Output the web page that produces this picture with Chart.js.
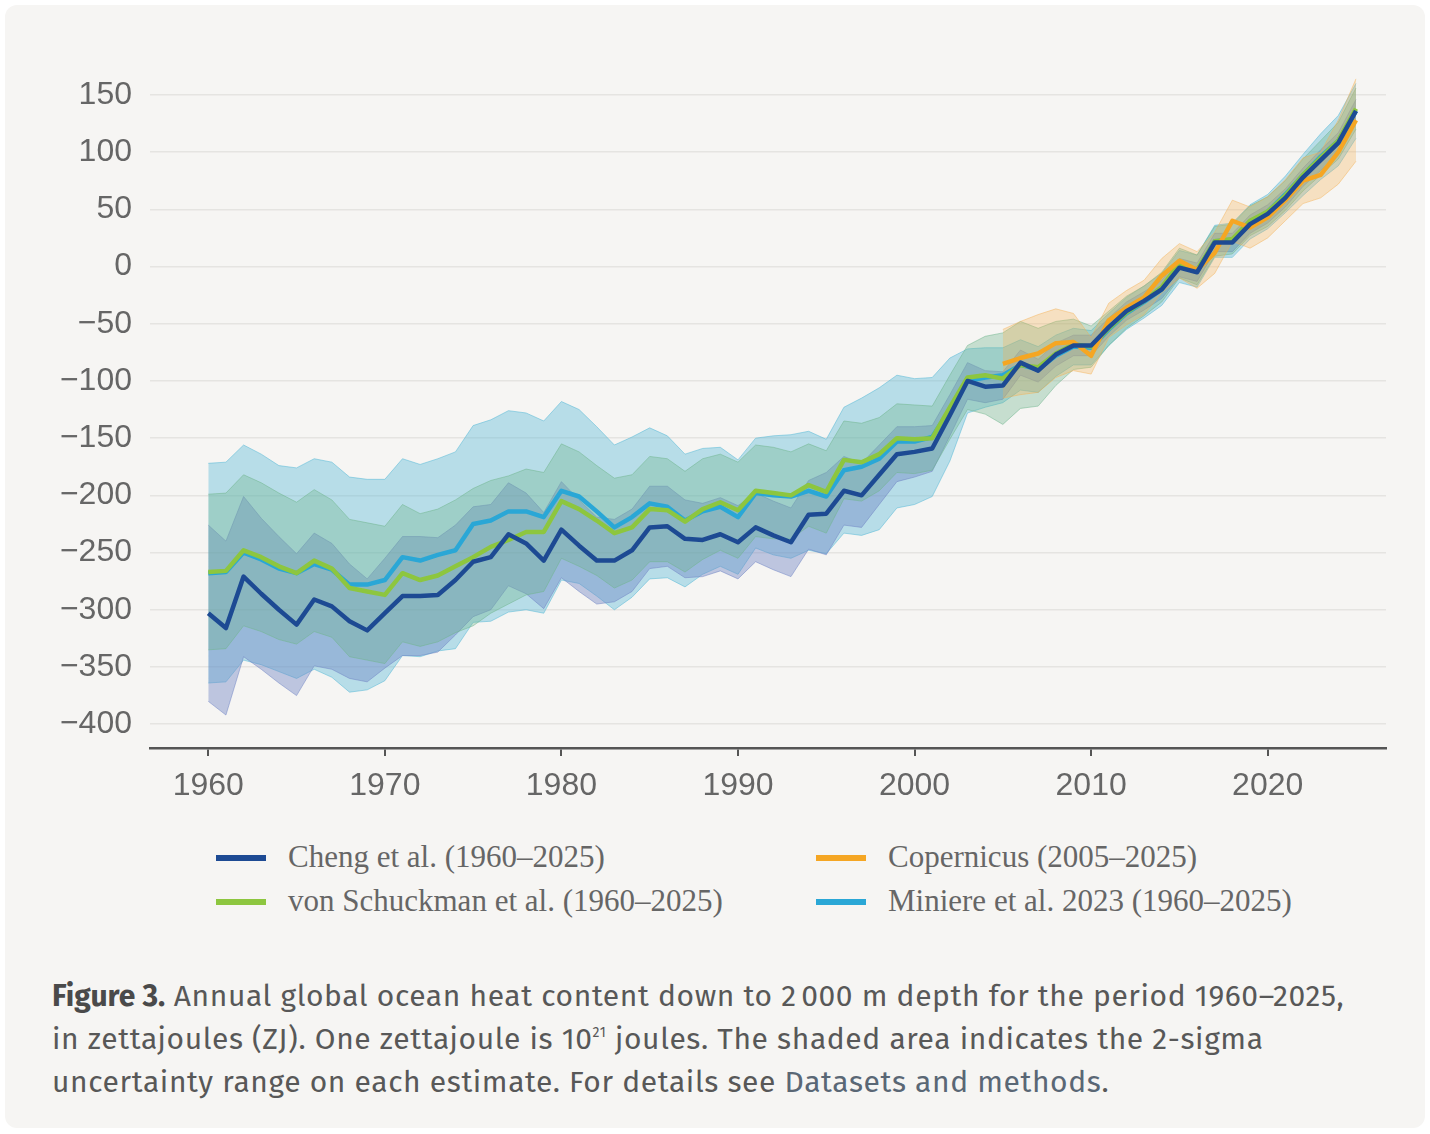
<!DOCTYPE html>
<html>
<head>
<meta charset="utf-8">
<script src="https://cdn.jsdelivr.net/npm/chart.js@4.4.1/dist/chart.umd.min.js"></script>
<style>
  html, body { margin: 0; padding: 0; background: #ffffff; }
  #card {
    position: absolute; left: 5px; top: 5px; width: 1420px; height: 1123px;
    background: #f6f5f3; border-radius: 12px;
  }
  #wrap { position: absolute; left: 0; top: 0; width: 1430px; height: 830px; }
  .legend-item {
    position: absolute; height: 40px; line-height: 40px;
    font-family: "Liberation Serif", "DejaVu Serif", serif; font-size: 31px; color: #666;
    white-space: nowrap;
  }
  .legend-item .swatch {
    position: absolute; left: 0; top: 18px; width: 50px; height: 6px;
  }
  .legend-item .label { position: absolute; left: 72px; top: 0; }
  #caption {
    position: absolute; left: 52px; top: 975px; width: 1370px;
    font-family: "Fira Sans", Lato, "Noto Sans", sans-serif; font-size: 30px;
    letter-spacing: 0.6px; white-space: nowrap;
    line-height: 43px; color: #585858;
  }
  #caption b { font-weight: 700; color: #4a4a4a; letter-spacing: 0; }
  #caption .link { color: #5a6775; }
</style>
</head>
<body>
<div id="card"></div>
<div id="wrap"><canvas id="chart" width="1430" height="830"></canvas></div>

<div class="legend-item" style="left:216px; top:837px;"><span class="swatch" style="background:#1d4a93"></span><span class="label">Cheng et al. (1960–2025)</span></div>
<div class="legend-item" style="left:216px; top:881px;"><span class="swatch" style="background:#8dc63f"></span><span class="label">von Schuckman et al. (1960–2025)</span></div>
<div class="legend-item" style="left:816px; top:837px;"><span class="swatch" style="background:#f5a623"></span><span class="label">Copernicus (2005–2025)</span></div>
<div class="legend-item" style="left:816px; top:881px;"><span class="swatch" style="background:#2aa7d6"></span><span class="label">Miniere et al. 2023 (1960–2025)</span></div>

<div id="caption"><b>Figure 3.</b> Annual global ocean heat content down to 2&#8239;000 m depth for the period 1960–2025,<br>in zettajoules (ZJ). One zettajoule is 10<sup style="font-size:14px;vertical-align:top;line-height:30px">21</sup> joules. The shaded area indicates the 2-sigma<br>uncertainty range on each estimate. For details see <span class="link">Datasets and methods</span>.</div>

<script>
// years 1960..2025
const years = [
  1960, 1961, 1962, 1963, 1964, 1965, 1966, 1967, 1968, 1969,
  1970, 1971, 1972, 1973, 1974, 1975, 1976, 1977, 1978, 1979,
  1980, 1981, 1982, 1983, 1984, 1985, 1986, 1987, 1988, 1989,
  1990, 1991, 1992, 1993, 1994, 1995, 1996, 1997, 1998, 1999,
  2000, 2001, 2002, 2003, 2004, 2005, 2006, 2007, 2008, 2009,
  2010, 2011, 2012, 2013, 2014, 2015, 2016, 2017, 2018, 2019,
  2020, 2021, 2022, 2023, 2024, 2025,
];

const cheng = [
  -303, -316, -271, -286, -300, -313, -291, -297, -310, -318,
  -303, -288, -288, -287, -274, -258, -254, -234, -242, -257,
  -230, -244, -257, -257, -248, -228, -227, -238, -239, -234,
  -241, -228, -235, -241, -217, -216, -196, -200, -182, -164,
  -162, -159, -130, -100, -105, -104, -84, -91, -77, -69,
  -69, -53, -39, -30, -20, -1, -5, 21, 21, 37,
  46, 60, 78, 93, 108, 136,
];
const chengSigma = [
  77, 76, 70, 66, 64, 62, 58, 55, 50, 45,
  48, 52, 52, 50, 48, 48, 46, 45, 44, 42,
  42, 40, 38, 36, 36, 36, 35, 34, 32, 32,
  32, 30, 30, 30, 30, 36, 30, 28, 26, 24,
  22, 20, 18, 16, 14, 12, 11, 10, 10, 9,
  9, 8, 8, 8, 8, 8, 8, 8, 8, 8,
  8, 8, 8, 9, 9, 10,
];

const schuckmann = [
  -267, -266, -248, -254, -262, -268, -257, -264, -281, -284,
  -287, -268, -274, -270, -262, -254, -245, -239, -232, -232,
  -205, -212, -222, -233, -228, -212, -213, -223, -212, -206,
  -213, -196, -198, -200, -191, -197, -169, -171, -164, -150,
  -151, -150, -123, -97, -95, -98, -86, -88, -76, -68,
  -70, -54, -40, -30, -18, 3, -3, 22, 24, 40,
  48, 62, 80, 95, 110, 138,
];
const schuckmannSigma = [
  68, 68, 66, 65, 64, 62, 62, 60, 60, 60,
  60, 60, 58, 58, 58, 60, 58, 56, 55, 52,
  50, 50, 48, 48, 46, 46, 45, 44, 44, 42,
  42, 40, 40, 38, 36, 36, 34, 34, 32, 30,
  30, 28, 28, 28, 34, 40, 38, 34, 28, 22,
  18, 15, 14, 13, 13, 13, 13, 13, 13, 13,
  13, 13, 14, 15, 16, 18,
];

const miniere = [
  -268, -267, -250, -256, -264, -268, -260, -265, -278, -278,
  -274, -254, -257, -252, -248, -225, -222, -214, -214, -219,
  -196, -201, -214, -228, -219, -207, -210, -222, -214, -210,
  -219, -198, -200, -201, -196, -201, -178, -175, -168, -153,
  -153, -149, -125, -100, -97, -95, -86, -90, -78, -70,
  -71, -55, -41, -31, -20, 0, -4, 22, 23, 39,
  48, 63, 80, 96, 110, 136,
];
const miniereSigma = [
  96, 96, 94, 92, 90, 92, 92, 94, 94, 92,
  88, 86, 84, 84, 86, 86, 88, 88, 86, 84,
  78, 76, 74, 72, 70, 66, 62, 58, 55, 52,
  50, 48, 52, 54, 52, 50, 55, 60, 62, 58,
  55, 52, 45, 28, 26, 24, 22, 20, 18, 16,
  15, 14, 14, 14, 14, 14, 14, 14, 15, 15,
  15, 16, 18, 20, 22, 24,
];

// Copernicus 2005..2025
const copernicusYears = [
  2005, 2006, 2007, 2008, 2009, 2010, 2011, 2012, 2013, 2014,
  2015, 2016, 2017, 2018, 2019, 2020, 2021, 2022, 2023, 2024, 2025,
];
const copernicus = [
  -85, -80, -76, -67, -66, -78, -47, -36, -27, -8,
  5, -3, 12, 40, 34, 43, 58, 75, 80, 100, 128,
];
const copernicusSigma = [
  30, 32, 34, 30, 25, 16, 15, 15, 15, 15,
  15, 16, 18, 18, 18, 18, 18, 20, 20, 28, 36,
];

const yTicks = [-400, -350, -300, -250, -200, -150, -100, -50, 0, 50, 100, 150];
const xTicks = [1960, 1970, 1980, 1990, 2000, 2010, 2020];

const toPoints = (xs, ys) => xs.map((x, i) => ({ x, y: ys[i] }));
const bandPoints = (xs, ys, sig, sign) =>
  xs.map((x, i) => ({ x, y: ys[i] + sign * sig[i] }));

const lineStyle = (color) => ({
  borderColor: color,
  borderWidth: 4.5,
  pointRadius: 0,
  fill: false,
  tension: 0,
  borderJoinStyle: "round",
});

const edgeStyle = (color) => ({
  borderColor: color,
  borderWidth: 1,
  pointRadius: 0,
  tension: 0,
});

// bands: lower dataset followed by upper dataset that fills to it
const datasets = [
  // 0,1 Miniere band (bottom)
  { data: bandPoints(years, miniere, miniereSigma, -1), ...edgeStyle("rgba(90,185,215,0.55)"), fill: false, order: 40 },
  { data: bandPoints(years, miniere, miniereSigma, 1), ...edgeStyle("rgba(90,185,215,0.55)"), fill: 0, backgroundColor: "rgba(90,185,215,0.4)", order: 40 },
  // 2,3 Cheng band
  { data: bandPoints(years, cheng, chengSigma, -1), ...edgeStyle("rgba(110,130,195,0.5)"), fill: false, order: 30 },
  { data: bandPoints(years, cheng, chengSigma, 1), ...edgeStyle("rgba(110,130,195,0.5)"), fill: 2, backgroundColor: "rgba(110,130,195,0.42)", order: 30 },
  // 4,5 von Schuckmann band
  { data: bandPoints(years, schuckmann, schuckmannSigma, -1), ...edgeStyle("rgba(110,180,140,0.5)"), fill: false, order: 20 },
  { data: bandPoints(years, schuckmann, schuckmannSigma, 1), ...edgeStyle("rgba(110,180,140,0.5)"), fill: 4, backgroundColor: "rgba(110,180,140,0.35)", order: 20 },
  // 6,7 Copernicus band
  { data: bandPoints(copernicusYears, copernicus, copernicusSigma, -1), ...edgeStyle("rgba(245,175,80,0.45)"), fill: false, order: 10 },
  { data: bandPoints(copernicusYears, copernicus, copernicusSigma, 1), ...edgeStyle("rgba(245,175,80,0.45)"), fill: 6, backgroundColor: "rgba(245,175,80,0.3)", order: 10 },
  // lines
  { label: "Miniere", data: toPoints(years, miniere), ...lineStyle("#2aa7d6"), order: 4 },
  { label: "von Schuckmann", data: toPoints(years, schuckmann), ...lineStyle("#8dc63f"), order: 3 },
  { label: "Copernicus", data: toPoints(copernicusYears, copernicus), ...lineStyle("#f5a623"), order: 2 },
  { label: "Cheng", data: toPoints(years, cheng), ...lineStyle("#1d4a93"), order: 1 },
];

const minus = (v) => (v < 0 ? "\u2212" + Math.abs(v) : String(v));

new Chart(document.getElementById("chart"), {
  type: "line",
  data: { datasets },
  options: {
    responsive: false,
    animation: false,
    devicePixelRatio: 1,
    layout: { padding: { left: 0, top: 72, right: 44, bottom: 0 } },
    plugins: {
      legend: { display: false },
      tooltip: { enabled: false },
    },
    scales: {
      x: {
        type: "linear",
        min: 1956.7,
        max: 2026.7,
        afterBuildTicks: (scale) => {
          scale.ticks = xTicks.map((value) => ({ value }));
        },
        afterFit: (scale) => {
          scale.height = 82;
        },
        grid: {
          drawOnChartArea: false,
          drawTicks: true,
          tickLength: 8,
          color: "#555",
          lineWidth: 2,
        },
        border: { display: true, color: "#555", width: 2.5 },
        ticks: {
          padding: 11,
          color: "#666",
          font: { family: "'Liberation Sans', Arial, sans-serif", size: 32 },
          callback: (v) => String(v),
          maxRotation: 0,
        },
      },
      y: {
        type: "linear",
        min: -420.8,
        max: 170,
        afterBuildTicks: (scale) => {
          scale.ticks = yTicks.map((value) => ({ value }));
        },
        afterFit: (scale) => {
          scale.width = 150;
        },
        grid: {
          drawTicks: false,
          color: "#e5e4e1",
          lineWidth: 1.5,
        },
        border: { display: false },
        ticks: {
          padding: 18,
          color: "#666",
          font: { family: "'Liberation Sans', Arial, sans-serif", size: 32 },
          callback: (v) => minus(v),
        },
      },
    },
  },
});
</script>
</body>
</html>
